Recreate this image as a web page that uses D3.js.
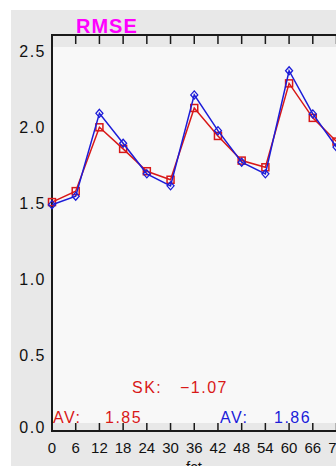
<!DOCTYPE html>
<html><head><meta charset="utf-8">
<script src="https://cdn.jsdelivr.net/npm/d3@7"></script>
<style>body{margin:0;background:#fff}svg{display:block}text{font-family:"Liberation Sans",Arial,sans-serif}</style>
</head><body>
<script>
const leadTimes = [0,6,12,18,24,30,36,42,48,54,60,66,72];
const seriesRed = [1.506,1.578,1.998,1.856,1.709,1.653,2.125,1.941,1.779,1.735,2.287,2.060,1.904];
const seriesBlue = [1.489,1.545,2.090,1.893,1.692,1.613,2.211,1.976,1.768,1.692,2.370,2.086,1.868];
const yTicks = [0,0.5,1.0,1.5,2.0,2.5];
const xTicks = [0,6,12,18,24,30,36,42,48,54,60,66,72];
const statSK = "\u22121.07";
const statAvRed = "1.85";
const statAvBlue = "1.86";

const W=336,H=466;
const svg=d3.select("body").append("svg").attr("width",W).attr("height",H);
const x=d3.scaleLinear().domain([0,72]).range([52,336.5]);
const y=d3.scaleLinear().domain([0,2.5]).range([431,51]);
const red="#d81818", blue="#1c1cd8";

svg.append("rect").attr("x",11).attr("y",10).attr("width",W-11).attr("height",H-10).attr("fill","#e8e8e8");
svg.append("rect").attr("x",53).attr("y",47).attr("width",300).attr("height",376).attr("fill","#f8f8f8");

// frame
const fr=svg.append("g").attr("stroke","#1a1a1a").attr("fill","none");
fr.append("rect").attr("x",52).attr("y",35).attr("width",300).attr("height",396).attr("stroke-width",2);
// ticks
svg.append("g").selectAll("line.bt").data(xTicks.slice(1)).join("line")
  .attr("x1",d=>x(d)).attr("x2",d=>x(d)).attr("y1",431).attr("y2",423)
  .attr("stroke","#1a1a1a").attr("stroke-width",1.5);
svg.append("g").selectAll("line.tt").data(xTicks.slice(1)).join("line")
  .attr("x1",d=>x(d)).attr("x2",d=>x(d)).attr("y1",35).attr("y2",44)
  .attr("stroke","#1a1a1a").attr("stroke-width",1.5);

// axis labels
svg.append("g").selectAll("text").data(yTicks).join("text")
  .attr("x",46).attr("y",d=>y(d)+(d===0?1.5:5.5)).attr("text-anchor","end")
  .attr("font-size",16).attr("letter-spacing",1.5).attr("fill","#111")
  .text(d=>d.toFixed(1));
svg.append("g").selectAll("text").data(xTicks).join("text")
  .attr("x",d=>x(d)).attr("y",453).attr("text-anchor","middle")
  .attr("font-size",15).attr("fill","#111")
  .text(d=>d);
svg.append("text").attr("x",194).attr("y",472).attr("text-anchor","middle")
  .attr("font-size",15).attr("fill","#111").text("fct");

// title
svg.append("text").attr("x",76).attr("y",33).attr("font-size",20).attr("font-weight","bold")
  .attr("letter-spacing",1).attr("fill","#ff00ff").text("RMSE");

// lines
const pts=(vals)=>leadTimes.map((t,i)=>[t,vals[i]]);
const line=d3.line().x(d=>x(d[0])).y(d=>y(d[1]));
svg.append("path").datum(pts(seriesRed)).attr("d",line).attr("fill","none").attr("stroke",red).attr("stroke-width",1.5);
svg.append("g").selectAll("rect").data(pts(seriesRed)).join("rect")
  .attr("x",d=>x(d[0])-3.5).attr("y",d=>y(d[1])-3.5).attr("width",7).attr("height",7)
  .attr("fill","none").attr("stroke",red).attr("stroke-width",1.5);
svg.append("path").datum(pts(seriesBlue)).attr("d",line).attr("fill","none").attr("stroke",blue).attr("stroke-width",1.5);
svg.append("g").selectAll("path").data(pts(seriesBlue)).join("path")
  .attr("d",d=>{const cx=x(d[0]),cy=y(d[1]);return `M${cx},${cy-4}L${cx+3.5},${cy}L${cx},${cy+4}L${cx-3.5},${cy}Z`;})
  .attr("fill","none").attr("stroke",blue).attr("stroke-width",1.3);

// stats
const st=svg.append("g").attr("font-size",16).attr("letter-spacing",1.5);
st.append("text").attr("x",132).attr("y",393).attr("fill",red).text("SK:");
st.append("text").attr("x",180).attr("y",393).attr("fill",red).text(statSK);
st.append("text").attr("x",53).attr("y",423).attr("fill",red).text("AV:");
st.append("text").attr("x",105).attr("y",423).attr("fill",red).text(statAvRed);
st.append("text").attr("x",220).attr("y",423).attr("fill",blue).text("AV:");
st.append("text").attr("x",274).attr("y",423).attr("fill",blue).text(statAvBlue);
</script>
</body></html>
